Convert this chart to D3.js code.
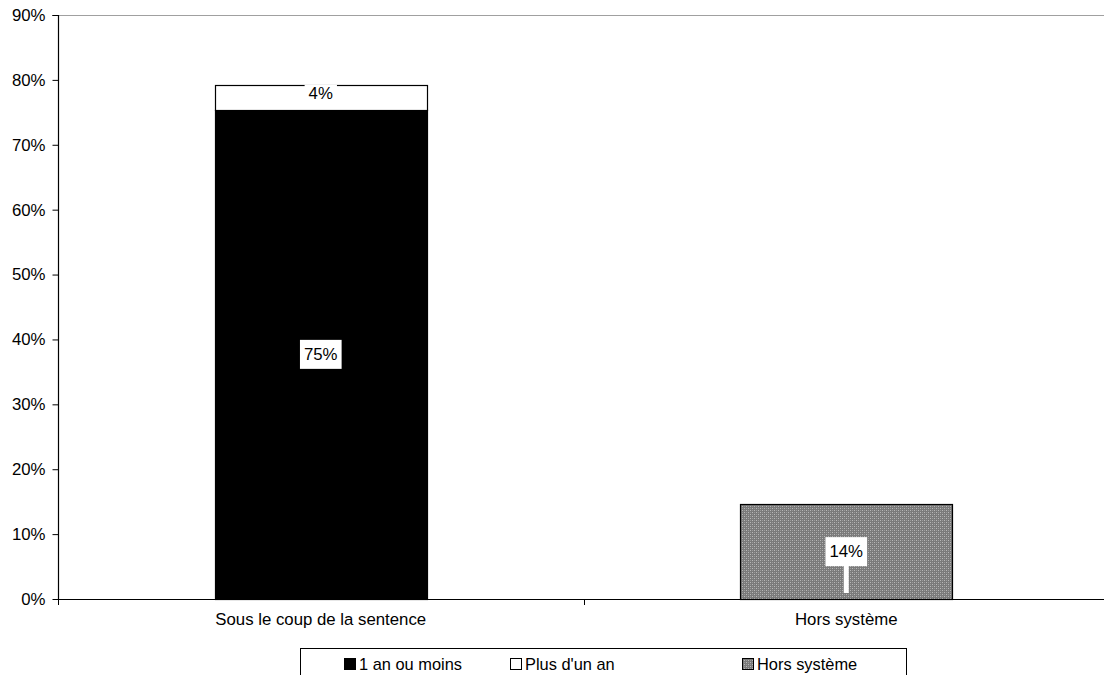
<!DOCTYPE html>
<html><head><meta charset="utf-8">
<script src="https://cdn.jsdelivr.net/npm/d3@7"></script>
<style>body{margin:0;background:#fff}svg{display:block;font-family:"Liberation Sans",Arial,sans-serif}</style>
</head><body><svg id="c" width="1104" height="675"></svg>
<script>
const categories = ["Sous le coup de la sentence", "Hors système"];
const seriesNames = ["1 an ou moins", "Plus d'un an", "Hors système"];
const unAnOuMoins = [75.4, 0];
const plusDunAn = [3.8, 0];
const horsSysteme = [0, 14.6];
const valueLabels = [["75%", null], ["4%", null], [null, "14%"]];
const yTicks = [0,10,20,30,40,50,60,70,80,90];

const svg = d3.select("#c");
const FS = 16.8;
const m = {l:58};
const W = 1104;
const x = d3.scaleBand().domain(categories).range([m.l, 1109]).paddingInner(0).paddingOuter(0);
const y = d3.scaleLinear().domain([0,90]).range([599, 15]);

const defs = svg.append("defs");
const pat = defs.append("pattern").attr("id","hatch").attr("width",4).attr("height",4).attr("patternUnits","userSpaceOnUse");
pat.append("rect").attr("width",4).attr("height",4).attr("fill","#7a7a7a");
pat.append("rect").attr("x",0).attr("y",0).attr("width",1).attr("height",1).attr("fill","#b8b8b8");
pat.append("rect").attr("x",2).attr("y",2).attr("width",1).attr("height",1).attr("fill","#b8b8b8");
pat.append("rect").attr("x",2).attr("y",0).attr("width",1).attr("height",1).attr("fill","#9a9a9a");
pat.append("rect").attr("x",0).attr("y",2).attr("width",1).attr("height",1).attr("fill","#9a9a9a");

// top gridline
svg.append("line").attr("x1",m.l).attr("x2",W).attr("y1",y(90)+0.5).attr("y2",y(90)+0.5).attr("stroke","#a0a0a0").attr("stroke-width",1);

const fills = ["#000000", "#ffffff", "url(#hatch)"];
const series = [unAnOuMoins, plusDunAn, horsSysteme];
const barW = 212;
categories.forEach((c, i) => {
  let base = 0;
  series.forEach((s, k) => {
    const v = s[i];
    if (v > 0) {
      const x0 = Math.round(x(c) + x.bandwidth()/2 - barW/2);
      svg.append("rect").attr("x", x0 + 0.5).attr("y", Math.round(y(base+v)) + 0.5)
        .attr("width", barW).attr("height", Math.round(y(base)) - Math.round(y(base+v)))
        .attr("fill", fills[k]).attr("stroke","#000").attr("stroke-width",1.2);
    }
    base += v;
  });
});

// labels
categories.forEach((c, i) => {
  let base = 0;
  series.forEach((s, k) => {
    const v = s[i];
    const lab = valueLabels[k][i];
    if (lab) {
      const cx = x(c) + x.bandwidth()/2;
      const cy = k === 1 ? y(base + v) + 8 : y(base + v/2);
      const t = svg.append("text").attr("x", cx).attr("y", cy).attr("text-anchor","middle")
        .attr("dominant-baseline","central").attr("font-size",FS).attr("fill","#000").text(lab);
      const bb = t.node().getBBox();
      const pad = 4;
      const bh = k === 1 ? bb.height - 2 : bb.height + 10;
      svg.insert("rect", () => t.node()).attr("x", bb.x - pad).attr("y", cy - bh/2)
        .attr("width", bb.width + 2*pad).attr("height", bh).attr("fill","#fff");
      if (k === 2) {
        svg.insert("rect", () => t.node()).attr("x", cx - 2.5).attr("y", cy + bh/2 - 1)
          .attr("width", 5).attr("height", y(0) - 6 - (cy + bh/2 - 1)).attr("fill","#fff");
      }
    }
    base += v;
  });
});

// y axis
const ya = svg.append("g").attr("transform",`translate(${m.l+0.5},0)`)
  .call(d3.axisLeft(y).tickValues(yTicks).tickFormat(d => d + "%").tickSize(6).tickPadding(7));
ya.select(".domain").attr("stroke","#000").attr("stroke-width",1.2).attr("d",`M-6,${y(90)+0.5}H0V${y(0)+0.5}`);
ya.selectAll(".tick line").attr("stroke","#000");
ya.selectAll("text").attr("font-size",FS).attr("fill","#000").attr("font-family","Liberation Sans, Arial, sans-serif");

// x axis
const xa = svg.append("g").attr("transform",`translate(0,${y(0)+0.5})`)
  .call(d3.axisBottom(x).tickSize(0).tickPadding(14));
xa.select(".domain").attr("stroke","#000").attr("stroke-width",1.2).attr("d",`M${m.l},0H${W}`);
xa.selectAll("text").attr("font-size",FS).attr("fill","#000").attr("font-family","Liberation Sans, Arial, sans-serif");
// category separator ticks
categories.forEach(c => {
  const px = Math.round(x(c));
  svg.append("line").attr("x1",px+0.5).attr("x2",px+0.5).attr("y1",y(0)).attr("y2",y(0)+6).attr("stroke","#000");
});

// legend
const lg = svg.append("g");
lg.append("rect").attr("x",300.5).attr("y",648.5).attr("width",606).attr("height",40).attr("fill","#fff").attr("stroke","#000").attr("stroke-width",1);
const lgX = [344, 510, 742];
seriesNames.forEach((n, k) => {
  lg.append("rect").attr("x", lgX[k] + 0.5).attr("y", 658.5).attr("width", 11).attr("height", 11)
    .attr("fill", fills[k]).attr("stroke","#000").attr("stroke-width",1);
  lg.append("text").attr("x", lgX[k] + 15).attr("y", 670).attr("font-size",16.4).attr("fill","#000").text(n);
});
</script></body></html>
